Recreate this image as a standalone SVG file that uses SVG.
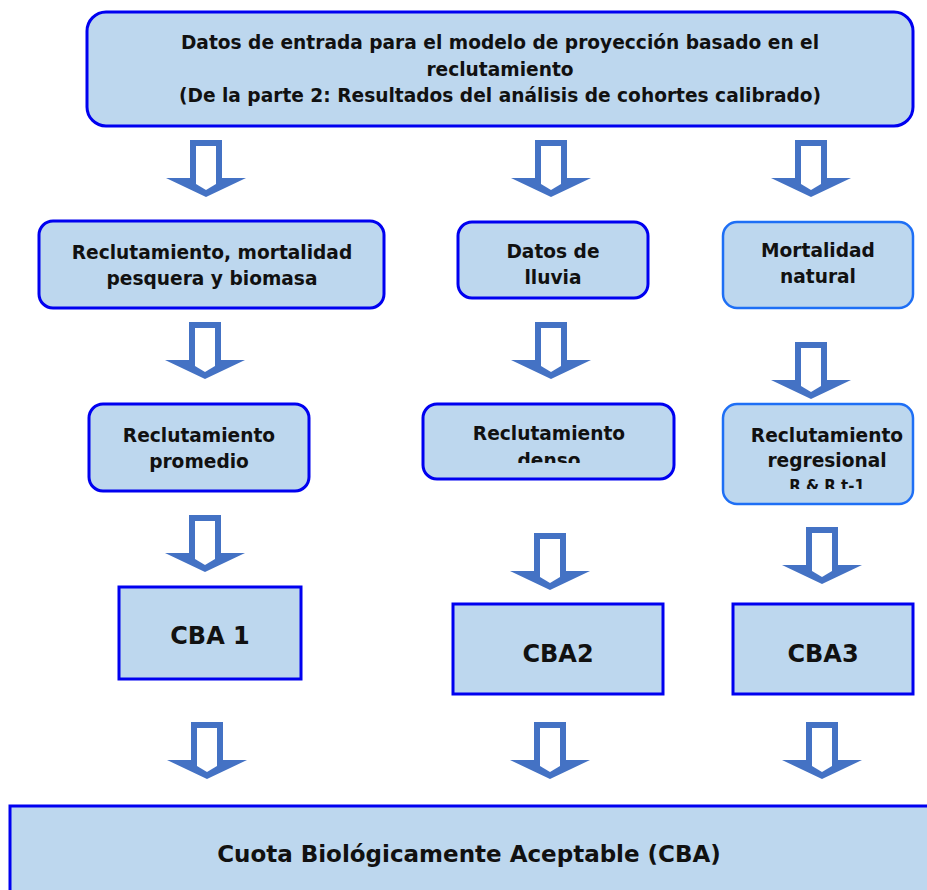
<svg xmlns="http://www.w3.org/2000/svg" xmlns:xlink="http://www.w3.org/1999/xlink" width="927" height="890" viewBox="0 0 927 890">
<style>
.box{fill:#BDD7EE;stroke:#0000F0;stroke-width:3}
.box2{fill:#BDD7EE;stroke:#1E6FF5;stroke-width:2.5}
.t{font-family:"DejaVu Sans","Liberation Sans",sans-serif;font-weight:bold;font-size:18.6px;fill:#111;text-anchor:middle}
.big{font-size:24px}
.bot{font-size:23px}
.sm{font-size:15px}
</style>
<defs>
<g id="arr">
<polygon points="-16,0 16,0 16,38 40,38 0,57 -40,38 -16,38" fill="#4472C4"/>
<polygon points="-10,6 10,6 10,44 0,50 -10,44" fill="#FFFFFF"/>
</g>
<clipPath id="clipDenso"><rect x="423" y="404" width="251" height="59"/></clipPath>
<clipPath id="clipReg"><rect x="723" y="404" width="190" height="85"/></clipPath>
</defs>
<rect width="927" height="890" fill="#FFFFFF"/>

<g id="connectors">
<use xlink:href="#arr" x="206" y="140"/>
<use xlink:href="#arr" x="551" y="140"/>
<use xlink:href="#arr" x="811" y="140"/>
<use xlink:href="#arr" x="205" y="322"/>
<use xlink:href="#arr" x="551" y="322"/>
<use xlink:href="#arr" x="811" y="342"/>
<use xlink:href="#arr" x="205" y="515"/>
<use xlink:href="#arr" x="550" y="533"/>
<use xlink:href="#arr" x="822" y="527"/>
<use xlink:href="#arr" x="207" y="722"/>
<use xlink:href="#arr" x="550" y="722"/>
<use xlink:href="#arr" x="822" y="722"/>
</g>

<g id="n-top">
<rect class="box" x="87" y="12" width="826" height="114" rx="19"/>
<text class="t" x="500" y="49">Datos de entrada para el modelo de proyección basado en el</text>
<text class="t" x="500" y="76">reclutamiento</text>
<text class="t" x="500" y="102">(De la parte 2: Resultados del análisis de cohortes calibrado)</text>
</g>

<g id="n-rmb">
<rect class="box" x="39" y="221" width="345" height="87" rx="14"/>
<text class="t" x="212" y="259">Reclutamiento, mortalidad</text>
<text class="t" x="212" y="285">pesquera y biomasa</text>
</g>

<g id="n-lluvia">
<rect class="box" x="458" y="222" width="190" height="76" rx="14"/>
<text class="t" x="553" y="258">Datos de</text>
<text class="t" x="553" y="284">lluvia</text>
</g>

<g id="n-mort">
<rect class="box2" x="723" y="222" width="190" height="86" rx="14"/>
<text class="t" x="818" y="257">Mortalidad</text>
<text class="t" x="818" y="283">natural</text>
</g>

<g id="n-prom">
<rect class="box" x="89" y="404" width="220" height="87" rx="14"/>
<text class="t" x="199" y="442">Reclutamiento</text>
<text class="t" x="199" y="468">promedio</text>
</g>

<g id="n-denso">
<rect class="box" x="423" y="404" width="251" height="75" rx="14"/>
<g clip-path="url(#clipDenso)">
<text class="t" x="549" y="440">Reclutamiento</text>
<text class="t" x="549" y="467">denso</text>
</g>
</g>

<g id="n-reg">
<rect class="box2" x="723" y="404" width="190" height="100" rx="14"/>
<g clip-path="url(#clipReg)">
<text class="t" x="827" y="442">Reclutamiento</text>
<text class="t" x="827" y="467">regresional</text>
<text class="t sm" x="827" y="491">R &amp; R t-1</text>
</g>
</g>

<g id="n-cba1">
<rect class="box" x="119" y="587" width="182" height="92"/>
<text class="t big" x="210" y="644">CBA 1</text>
</g>

<g id="n-cba2">
<rect class="box" x="453" y="604" width="210" height="90"/>
<text class="t big" x="558" y="662">CBA2</text>
</g>

<g id="n-cba3">
<rect class="box" x="733" y="604" width="180" height="90"/>
<text class="t big" x="823" y="662">CBA3</text>
</g>

<g id="n-cba">
<rect class="box" x="10" y="806" width="930" height="100"/>
<text class="t bot" x="469" y="862">Cuota Biológicamente Aceptable (CBA)</text>
</g>
</svg>
